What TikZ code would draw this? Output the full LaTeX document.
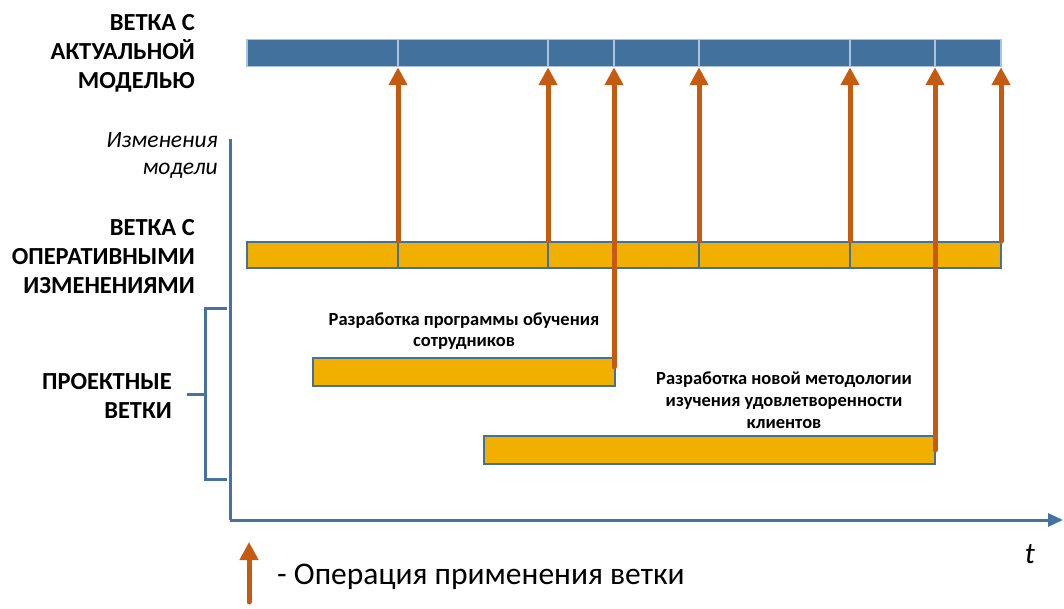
\documentclass[tikz,border=0pt]{standalone}
\usepackage{fontspec}
\setmainfont{Carlito}
\usetikzlibrary{arrows.meta}
\definecolor{barblue}{RGB}{65,113,156}
\definecolor{bluedge}{RGB}{170,195,222}
\definecolor{ofill}{RGB}{241,176,0}
\definecolor{arrowc}{RGB}{197,90,17}
\definecolor{axisc}{RGB}{70,114,160}
\tikzset{
  mainbar/.style={rectangle, fill=barblue, draw=bluedge, line width=1.5pt, inner sep=0pt, minimum height=27pt},
  opbar/.style={rectangle, fill=ofill, draw=barblue, line width=1.6pt, inner sep=0pt, minimum height=26pt},
  mdiv/.style={draw=bluedge, line width=1.5pt},
  odiv/.style={draw=barblue, line width=1.6pt},
  applyarr/.style={draw=arrowc, line width=5pt, line cap=round, -{Triangle[width=18pt,length=18pt]}},
  axisline/.style={draw=axisc, line width=3pt},
  biglabel/.style={font=\fontsize{24.5}{29}\selectfont\bfseries, align=right, inner sep=0pt},
  projlabel/.style={font=\fontsize{18.5}{21}\selectfont\bfseries, align=center, inner sep=0pt},
}
\begin{document}
\begin{tikzpicture}[x=1pt,y=-1pt]
\useasboundingbox (0,0) rectangle (1064,609);
% bars
\node[mainbar, minimum width=754pt] (main) at (624,53) {};
\node[opbar, minimum width=754pt] (ops) at (624,255) {};
\node[opbar, minimum width=302pt, minimum height=28pt] (p1) at (464,372) {};
\node[opbar, minimum width=451pt, minimum height=28pt] (p2) at (709.5,450) {};
% dividers
\foreach \x in {398,548,614,699,850,935}
  \draw[mdiv] (\x,0 |- main.north) -- (\x,0 |- main.south);
\foreach \x in {398,548,699,850}
  \draw[odiv] (\x,0 |- ops.north) -- (\x,0 |- ops.south);
% coordinates for arrows
\foreach \x/\n in {398/1,548/2,614/3,699/4,850/5,935/6,1001/7}
  \coordinate (m\n) at (\x,0 |- main.south);
\foreach \x/\n in {398/1,548/2,699/4,850/5,1001/7}
  \coordinate (o\n) at (\x,0 |- ops.north);
\coordinate (o3) at (614,367);
\coordinate (o6) at (935,450);
% axes
\coordinate (ytop) at (230,139);
\coordinate (orig) at (230,520);
\coordinate (xend) at (1063,520);
\draw[axisline] (ytop) -- (orig);
\draw[axisline, -{Triangle[width=13pt,length=15pt]}] (orig) -- (xend);
% bracket
\coordinate (bt1) at (227,308);
\coordinate (bt2) at (205,308);
\coordinate (bb2) at (205,479);
\coordinate (bb1) at (227,479);
\coordinate (bm1) at (205,394);
\coordinate (bm2) at (187,394);
\draw[axisline] (bt1) -- (bt2) -- (bb2) -- (bb1);
\draw[axisline] (bm1) -- (bm2);
% apply arrows
\foreach \n in {1,...,7}
  \draw[applyarr] (o\n) -- (m\n);
% labels
\node[biglabel, anchor=east] (lmain) at (195,53) {ВЕТКА С\\АКТУАЛЬНОЙ\\МОДЕЛЬЮ};
\node[font=\fontsize{23.5}{27}\selectfont\itshape, align=right, inner sep=0pt, anchor=east] (lchg) at (218,155) {Изменения\\модели};
\node[biglabel, anchor=east] (lops) at (195,256.5) {ВЕТКА С\\ОПЕРАТИВНЫМИ\\ИЗМЕНЕНИЯМИ};
\node[biglabel, anchor=east] (lproj) at (172,396) {ПРОЕКТНЫЕ\\ВЕТКИ};
\node[projlabel] (t1) at (464,331) {Разработка программы обучения\\сотрудников};
\node[projlabel, font=\fontsize{18.5}{22}\selectfont\bfseries] (t2) at (784,400) {Разработка новой методологии\\изучения удовлетворенности\\клиентов};
\node[font=\fontsize{30}{36}\selectfont\itshape, inner sep=0pt] (tlab) at (1030,554) {t};
% legend
\coordinate (lg1) at (249,602);
\coordinate (lg2) at (249,542);
\draw[applyarr] (lg1) -- (lg2);
\node[font=\fontsize{31.5}{36}\selectfont, anchor=west, inner sep=0pt] (legtext) at (277,577) {- Операция применения ветки};
\end{tikzpicture}
\end{document}
